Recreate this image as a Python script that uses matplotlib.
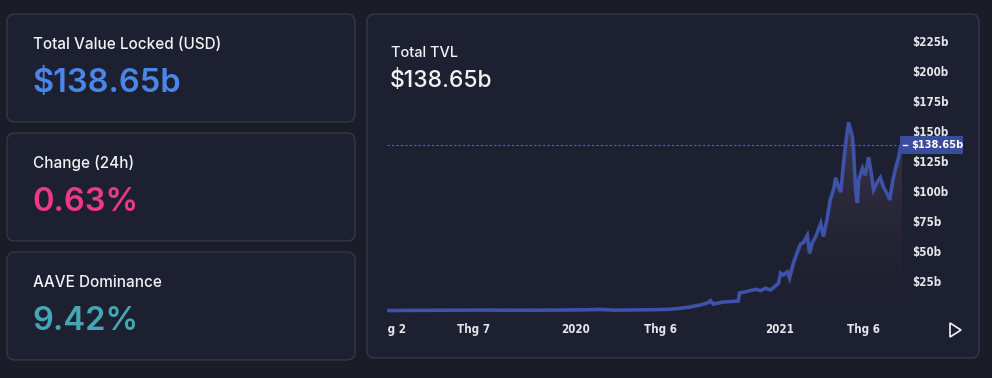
#!/usr/bin/env python3
"""
Total TVL dashboard card: three stat boxes on the left, TVL area chart on the right.
"""

import numpy as np
import matplotlib
matplotlib.use('Agg')  # Use non-interactive backend
import matplotlib.pyplot as plt
import matplotlib.dates as mdates
from matplotlib.patches import FancyBboxPatch, Polygon, Rectangle
from matplotlib.colors import LinearSegmentedColormap
import matplotlib.transforms as mtransforms

W, H = 992, 378

# Stat boxes
stat_titles = ['Total Value Locked (USD)', 'Change (24h)', 'AAVE Dominance']
stat_values = ['$138.65b', '0.63%', '9.42%']
stat_colors = ['#4a86e8', '#f0388b', '#45a6b4']

# TVL series (billions USD)
tvl_dates = ['2019-01-27', '2019-03-01', '2019-04-15', '2019-06-01', '2019-07-15',
             '2019-09-01', '2019-10-15', '2019-12-01', '2020-01-15', '2020-02-15',
             '2020-03-12', '2020-04-15', '2020-05-20', '2020-06-19', '2020-07-05',
             '2020-07-19', '2020-07-25', '2020-08-05', '2020-08-12', '2020-08-20',
             '2020-08-26', '2020-08-30', '2020-09-04', '2020-09-22', '2020-10-19',
             '2020-10-21', '2020-11-01', '2020-11-19', '2020-11-28', '2020-12-07',
             '2020-12-16', '2020-12-25', '2020-12-30', '2021-01-03', '2021-01-08',
             '2021-01-15', '2021-01-19', '2021-01-26', '2021-02-02', '2021-02-08',
             '2021-02-13', '2021-02-20', '2021-02-24', '2021-03-01', '2021-03-07',
             '2021-03-16', '2021-03-21', '2021-03-28', '2021-04-02', '2021-04-08',
             '2021-04-12', '2021-04-17', '2021-04-21', '2021-04-26', '2021-04-30',
             '2021-05-05', '2021-05-09', '2021-05-12', '2021-05-14', '2021-05-18',
             '2021-05-21', '2021-05-23', '2021-05-30', '2021-06-04', '2021-06-10',
             '2021-06-13', '2021-06-17', '2021-06-19', '2021-06-26', '2021-07-01',
             '2021-07-07', '2021-07-14', '2021-07-18', '2021-07-23', '2021-07-29',
             '2021-08-03', '2021-08-06', '2021-08-09']
tvl_values = [0.4, 0.5, 0.6, 0.7, 0.8,
              0.7, 0.7, 0.8, 1.0, 1.3,
              0.7, 0.9, 1.1, 1.5, 2.2,
              3.0, 3.4, 4.5, 5.0, 6.2,
              7.0, 8.6, 5.8, 7.5, 8.3,
              15.0, 16.0, 18.0, 17.0, 19.0,
              17.5, 21.0, 23.0, 31.6, 30.0,
              32.5, 27.5, 40.0, 49.0, 56.0,
              57.0, 63.0, 48.0, 57.0, 62.0,
              73.0, 62.0, 78.0, 92.5, 101.0,
              111.0, 103.0, 99.0, 123.0, 140.0,
              157.0, 150.0, 145.0, 133.0, 98.0,
              90.0, 109.0, 119.0, 113.0, 128.0,
              120.0, 107.0, 101.0, 107.5, 111.0,
              103.0, 97.0, 92.5, 107.5, 120.0,
              128.0, 136.0, 138.65]
last_value = 138.65

# Axis ticks
x_tick_dates = ['2019-02-01', '2019-07-01', '2020-01-01', '2020-06-01', '2021-01-01', '2021-06-01']
x_tick_labels = ['Thg 2', 'Thg 7', '2020', 'Thg 6', '2021', 'Thg 6']
y_ticks = [25, 50, 75, 100, 125, 150, 175, 200, 225]
y_tick_labels = ['$%db' % v for v in y_ticks]

BG = '#1a1c27'
CARD = '#1d2030'
BORDER = '#363a4c'
LINE = '#3d52a8'
TICK_FONT = ['DejaVu Sans']
HEAD_FONT = ['Inter', 'DejaVu Sans']

fig = plt.figure(figsize=(W / 100, H / 100), dpi=100, facecolor=BG)


def card(x0, y0, x1, y1):
    # pixel coords, origin top-left
    p = FancyBboxPatch((x0 / 100, (H - y1) / 100), (x1 - x0) / 100, (y1 - y0) / 100,
                       boxstyle='round,pad=0,rounding_size=0.08',
                       transform=fig.dpi_scale_trans, facecolor=CARD,
                       edgecolor=BORDER, linewidth=0.9, zorder=0)
    fig.add_artist(p)


def ftext(x, y, s, **kw):
    fig.text(x / W, 1 - y / H, s, va='baseline', ha='left', **kw)


# Left stat cards
card_tops = [14, 133, 252]
for i, top in enumerate(card_tops):
    card(7, top, 355, top + 108)
    ftext(33, top + 35, stat_titles[i], color='#f2f2f5', fontsize=11,
          fontweight='medium', family=HEAD_FONT)
    ftext(32, top + 78, stat_values[i], color=stat_colors[i], fontsize=23.5,
          fontweight='semibold', family=HEAD_FONT)

# Chart card
card(367, 14, 979, 358)
ftext(391, 57, 'Total TVL', color='#f2f2f5', fontsize=10.5, fontweight='medium', family=HEAD_FONT)
ftext(390, 87, '$138.65b', color='#f2f2f5', fontsize=16.5, fontweight='medium', family=HEAD_FONT)

ax = fig.add_axes([387 / W, 1 - 318 / H, (902 - 387) / W, (318 - 30) / H])
ax.patch.set_alpha(0)

xs = mdates.datestr2num(tvl_dates)
ys = np.array(tvl_values)

# gradient area under the line
poly = ax.fill_between(xs, ys, 0, facecolor='none', edgecolor='none')
grad = LinearSegmentedColormap.from_list(
    'tvl', [(0.16, 0.15, 0.20, 0.0), (0.27, 0.23, 0.31, 0.9)])
img = ax.imshow(np.linspace(0, 1, 256).reshape(-1, 1), cmap=grad, aspect='auto',
                origin='lower', extent=[xs[0], xs[-1], 0, 160], zorder=1)
img.set_clip_path(poly.get_paths()[0], transform=ax.transData)

ax.plot(xs, ys, color=LINE, linewidth=2.6, solid_joinstyle='miter', zorder=3)

# last value guide line
ax.axhline(last_value, color='#5566aa', linewidth=0.8, dashes=(2, 2), zorder=2)

ax.set_xlim(xs[0], xs[-1])
ax.set_ylim(-5.8, 234)

ax.set_xticks(mdates.datestr2num(x_tick_dates))
ax.set_xticklabels(x_tick_labels)
ax.set_yticks(y_ticks)
ax.set_yticklabels(y_tick_labels)
ax.yaxis.tick_right()
ax.tick_params(axis='both', length=0, colors='#e6e6ea', labelsize=8.3)
ax.tick_params(axis='y', pad=7)
ax.tick_params(axis='x', pad=3.5)
for lab in ax.get_xticklabels() + ax.get_yticklabels():
    lab.set_family(TICK_FONT)
    lab.set_fontweight('bold')
    lab.set_fontstretch('condensed')
for s in ax.spines.values():
    s.set_visible(False)

# clip x tick labels to the left edge of the plot area (first label is cut)
clip = mtransforms.TransformedBbox(
    mtransforms.Bbox([[387 / W, 0], [1, 1]]), fig.transFigure)
for lab in ax.get_xticklabels():
    lab.set_clip_box(clip)
    lab.set_clip_on(True)

# last value tag, anchored at the right edge of the plot at the last value
blend = mtransforms.blended_transform_factory(ax.transAxes, ax.transData)
anchor = fig.dpi_scale_trans + mtransforms.ScaledTranslation(1.0, last_value, blend)
ax.add_artist(Rectangle((-0.02, -0.09), 0.63, 0.18, transform=anchor,
                        facecolor='#3a4c9c', edgecolor='none', clip_on=False, zorder=5))
ax.plot([0.01, 0.045], [0, 0], color='white', linewidth=1, transform=anchor,
        clip_on=False, zorder=6)
ax.text(0.09, 0, '$138.65b', transform=anchor, va='center', ha='left',
        color='white', fontsize=7.9, fontweight='bold', fontstretch='condensed',
        family=TICK_FONT, zorder=6, clip_on=False)

# play button
tri = Polygon([[950 / W, 1 - 323 / H], [950 / W, 1 - 337 / H], [961 / W, 1 - 330 / H]],
              closed=True, fill=False, edgecolor='#f2f2f5', linewidth=1.2,
              transform=fig.transFigure)
fig.add_artist(tri)

plt.savefig('out.png', dpi=100, facecolor=BG)
plt.close()
